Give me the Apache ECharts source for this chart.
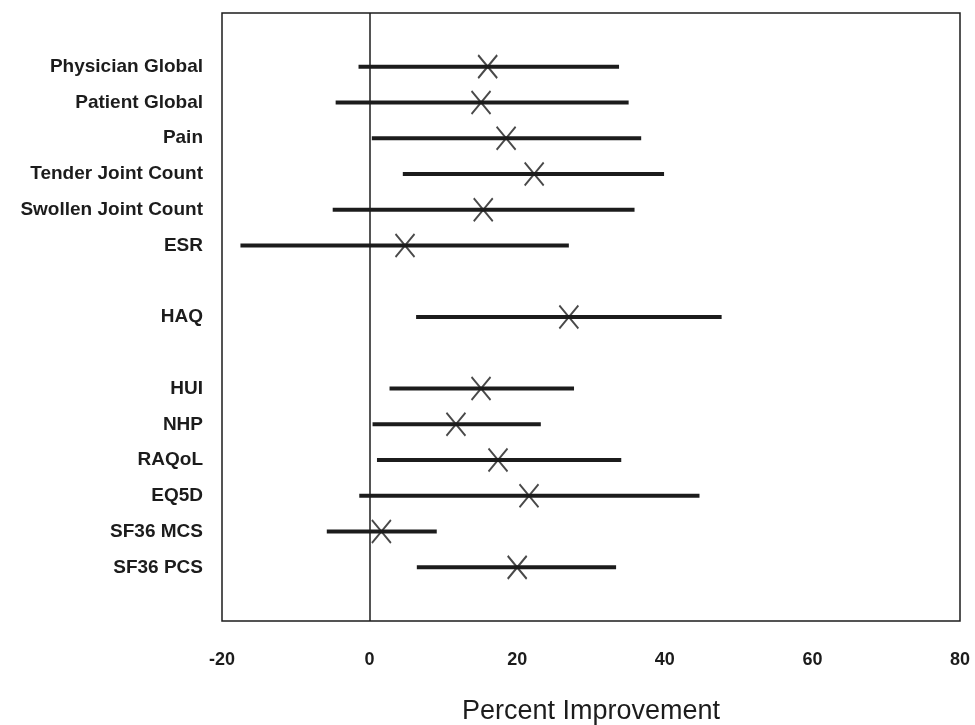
<!DOCTYPE html>
<html>
<head>
<meta charset="utf-8">
<script src="https://cdn.jsdelivr.net/npm/echarts@6/dist/echarts.min.js"></script>
<style>
  html, body { margin: 0; padding: 0; background: #fff; }
  #chart { width: 975px; height: 725px; }
</style>
</head>
<body>
<div id="chart"></div>
<script>
// rows top to bottom, '' = empty gap row
var categories = ["", "Physician Global", "Patient Global", "Pain", "Tender Joint Count",
  "Swollen Joint Count", "ESR", "", "HAQ", "", "HUI", "NHP", "RAQoL", "EQ5D",
  "SF36 MCS", "SF36 PCS", ""];

// one entry per measure
var measures = ["Physician Global", "Patient Global", "Pain", "Tender Joint Count",
  "Swollen Joint Count", "ESR", "HAQ", "HUI", "NHP", "RAQoL", "EQ5D", "SF36 MCS", "SF36 PCS"];
var lower = [-1.5, -4.6, 0.3, 4.5, -5.0, -17.5, 6.3, 2.7, 0.4, 1.0, -1.4, -5.8, 6.4];
var point = [16.0, 15.1, 18.5, 22.3, 15.4, 4.8, 27.0, 15.1, 11.7, 17.4, 21.6, 1.6, 20.0];
var upper = [33.8, 35.1, 36.8, 39.9, 35.9, 27.0, 47.7, 27.7, 23.2, 34.1, 44.7, 9.1, 33.4];

var xTicks = [-20, 0, 20, 40, 60, 80];

var font = "'Liberation Sans', Arial, Helvetica, sans-serif";
var ink = "#1c1c1c";

var rangeData = [];
var pointData = [];
measures.forEach(function (m, i) {
  var row = categories.indexOf(m);
  rangeData.push([lower[i], upper[i], row]);
  pointData.push([point[i], row]);
});

var chart = echarts.init(document.getElementById("chart"));

var option = {
  animation: false,
  backgroundColor: "#fff",
  grid: {
    left: 222,
    right: 15,
    top: 13,
    bottom: 104,
    outerBoundsMode: "none",
    containLabel: false,
    show: true,
    borderColor: ink,
    borderWidth: 1.5,
    backgroundColor: "transparent"
  },
  xAxis: {
    type: "value",
    min: xTicks[0],
    max: xTicks[xTicks.length - 1],
    interval: 20,
    axisLine: { show: false },
    axisTick: { show: false },
    splitLine: { show: false },
    axisLabel: {
      margin: 30,
      fontFamily: font,
      fontWeight: "bold",
      fontSize: 18,
      color: ink
    },
    name: "Percent Improvement",
    nameLocation: "middle",
    nameGap: 77,
    nameTextStyle: {
      fontFamily: font,
      fontSize: 27,
      color: ink
    }
  },
  yAxis: {
    type: "category",
    data: categories,
    inverse: true,
    axisLine: { show: false },
    axisTick: { show: false },
    splitLine: { show: false },
    axisLabel: {
      margin: 19,
      interval: 0,
      fontFamily: font,
      fontWeight: "bold",
      fontSize: 19,
      color: ink
    }
  },
  series: [
    {
      type: "custom",
      data: rangeData,
      renderItem: function (params, api) {
        var a = api.coord([api.value(0), api.value(2)]);
        var b = api.coord([api.value(1), api.value(2)]);
        return {
          type: "line",
          shape: { x1: a[0], y1: a[1], x2: b[0], y2: b[1] },
          style: { stroke: ink, lineWidth: 4 }
        };
      },
      z: 3
    },
    {
      type: "scatter",
      data: pointData,
      symbol: "path://M0,0L10,12M10,0L0,12",
      symbolSize: [19, 23],
      itemStyle: { color: "none", borderColor: ink, borderWidth: 2 },
      z: 4,
      markLine: {
        silent: true,
        symbol: "none",
        label: { show: false },
        lineStyle: { color: ink, width: 1.5, type: "solid" },
        data: [{ xAxis: 0 }]
      }
    }
  ]
};

chart.setOption(option);
</script>
</body>
</html>
